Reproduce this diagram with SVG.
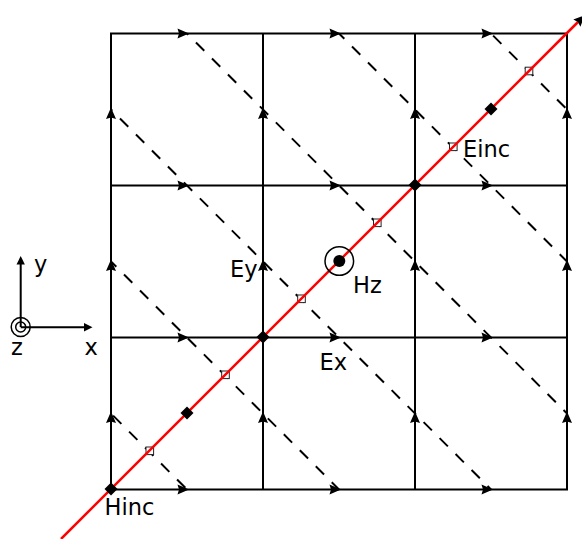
<svg xmlns="http://www.w3.org/2000/svg" width="582" height="539" viewBox="0 0 582 539">
<style>
.g{stroke:#000;stroke-width:2;fill:none}
.d{stroke:#000;stroke-width:2;fill:none;stroke-dasharray:11.7 10.9}
.a{fill:#000;stroke:none}
.s{fill:#fff;stroke:#222;stroke-width:1}
text{font-family:"DejaVu Sans",sans-serif;font-size:22.5px;fill:#000}
</style>
<defs>
<path id="ar" class="a" d="M0 0L-11.500 -5L-10 0L-11.500 5Z"/>
<path id="au" class="a" d="M0 0L-5 11.500L0 10L5 11.500Z"/>
<rect id="sq" class="s" x="-3.800" y="-3.800" width="7.600" height="7.600"/>
<rect id="dm" class="a" x="-4.600" y="-4.600" width="9.200" height="9.200" transform="rotate(45)"/>
</defs>
<g id="connectors">
<path class="d" stroke-dashoffset="-12.700" d="M187 33.500L567 413.500M111 109.500L491 489.500"/>
<path class="d" stroke-dashoffset="4.200" d="M339 33.500L567 261.500M111 261.500L339 489.500"/>
<path class="d" stroke-dashoffset="-3" d="M491 33.500L567 109.500M111 413.500L187 489.500"/>
<path class="g" d="M111 33.500H567V489.500H111ZM111 185.500H567M111 337.500H567M263 33.500V489.500M415 33.500V489.500"/>
<g id="h-arrows">
<use href="#ar" x="189" y="33.500"/><use href="#ar" x="341" y="33.500"/><use href="#ar" x="493" y="33.500"/>
<use href="#ar" x="189" y="185.500"/><use href="#ar" x="341" y="185.500"/><use href="#ar" x="493" y="185.500"/>
<use href="#ar" x="189" y="337.500"/><use href="#ar" x="341" y="337.500"/><use href="#ar" x="493" y="337.500"/>
<use href="#ar" x="189" y="489.500"/><use href="#ar" x="341" y="489.500"/><use href="#ar" x="493" y="489.500"/>
</g>
<g id="v-arrows">
<use href="#au" x="111" y="107.500"/><use href="#au" x="263" y="107.500"/><use href="#au" x="415" y="107.500"/><use href="#au" x="567" y="107.500"/>
<use href="#au" x="111" y="259.500"/><use href="#au" x="263" y="259.500"/><use href="#au" x="415" y="259.500"/><use href="#au" x="567" y="259.500"/>
<use href="#au" x="111" y="411.500"/><use href="#au" x="263" y="411.500"/><use href="#au" x="415" y="411.500"/><use href="#au" x="567" y="411.500"/>
</g>
</g>
<g id="e-samples">
<use href="#sq" x="149.800" y="450.800"/><use href="#sq" x="225.500" y="374.800"/><use href="#sq" x="301.500" y="298.800"/><use href="#sq" x="377.300" y="222.800"/><use href="#sq" x="453.300" y="146.800"/><use href="#sq" x="529" y="71"/>
</g>
<g id="incident-line">
<path d="M61 539L578 22" stroke="#f00" stroke-width="2.500" fill="none"/>
<use href="#ar" transform="translate(585 15) rotate(-45)"/>
</g>
<g id="h-samples">
<use href="#dm" x="111" y="489"/><use href="#dm" x="187" y="413"/><use href="#dm" x="263" y="337"/><use href="#dm" x="415" y="185"/><use href="#dm" x="491" y="109"/>
</g>
<g id="hz">
<circle cx="339.300" cy="261" r="14.300" fill="none" stroke="#000" stroke-width="1.500"/>
<circle cx="339.300" cy="261" r="6" fill="#000"/>
<text x="353" y="293.300">Hz</text>
</g>
<g id="labels">
<text x="463" y="156.500">Einc</text>
<text x="230" y="276.500">Ey</text>
<text x="319.500" y="370">Ex</text>
<text x="104.500" y="514.500">Hinc</text>
</g>
<g id="axes">
<path class="g" d="M20.700 327V262M20.700 327.300H86"/>
<path class="a" d="M20.700 256L16.500 264.500H24.900Z"/>
<path class="a" d="M92.500 327.300L84 323V331.600Z"/>
<circle cx="20.700" cy="327" r="9.500" fill="none" stroke="#000" stroke-width="1.500"/>
<circle cx="20.700" cy="327" r="5" fill="none" stroke="#000" stroke-width="1.500"/>
<text x="34" y="272">y</text>
<text x="84.500" y="355">x</text>
<text x="11" y="355">z</text>
</g>
</svg>
